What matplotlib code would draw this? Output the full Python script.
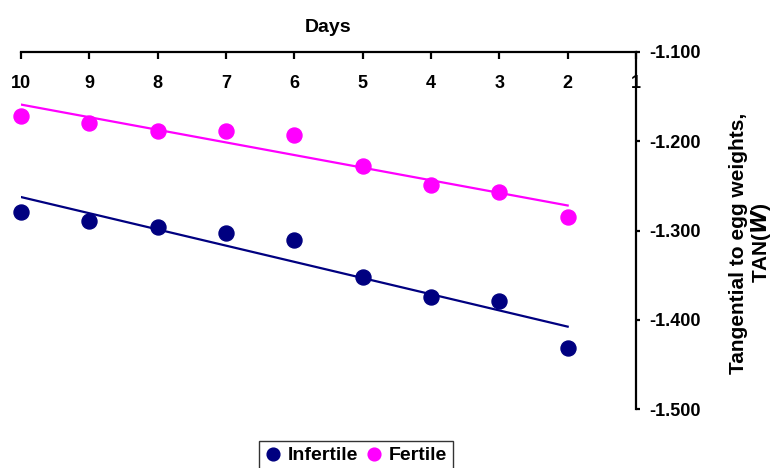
import numpy as np
import matplotlib
matplotlib.use("Agg")
import matplotlib.pyplot as plt

days = [10, 9, 8, 7, 6, 5, 4, 3, 2]
infertile = [-1.279, -1.289, -1.296, -1.303, -1.311, -1.352, -1.375, -1.379, -1.432]
fertile = [-1.172, -1.179, -1.188, -1.188, -1.193, -1.228, -1.249, -1.257, -1.285]
xticks = [10, 9, 8, 7, 6, 5, 4, 3, 2, 1]
yticks = [-1.1, -1.2, -1.3, -1.4, -1.5]

plt.rcParams['font.family'] = ['Liberation Sans', 'DejaVu Sans']
plt.rcParams['font.weight'] = 'bold'

W, H = 777, 468
fig = plt.figure(figsize=(W/100, H/100), dpi=100)
ax = fig.add_axes([21/W, 1-409/H, 615/W, 357/H])

navy = '#000080'
magenta = '#FF00FF'

for vals, col, lab in [(infertile, navy, 'Infertile'), (fertile, magenta, 'Fertile')]:
    x = np.array(days, dtype=float)
    y = np.array(vals)
    ax.plot(x, y, 'o', color=col, markersize=10.8, label=lab, clip_on=False, zorder=3)
    p = np.polyfit(x, y, 1)
    xx = np.array([x.max(), x.min()])
    ax.plot(xx, np.polyval(p, xx), '-', color=col, lw=1.6, zorder=2)

ax.set_xlim(10, 1)
ax.set_ylim(-1.5, -1.1)
ax.set_xticks(xticks)
ax.set_xticklabels([str(t) for t in xticks])
ax.set_yticks(yticks)
ax.set_yticklabels(['%.3f' % t for t in yticks])

for s in ['left', 'bottom']:
    ax.spines[s].set_visible(False)
for s in ['top', 'right']:
    ax.spines[s].set_linewidth(1.6)
    ax.spines[s].set_zorder(4)

ax.xaxis.tick_top()
ax.xaxis.set_label_position('top')
ax.yaxis.tick_right()
ax.yaxis.set_label_position('right')
ax.tick_params(axis='x', direction='in', length=5, width=1.6, labelsize=13, pad=-28.5)
ax.tick_params(axis='y', direction='out', length=3, width=1.6, labelsize=13, pad=6.5)
for lbl in ax.get_xticklabels() + ax.get_yticklabels():
    lbl.set_fontweight('bold')

ax.set_xlabel('Days', fontsize=14, fontweight='bold', labelpad=14.5)
ylab = ax.set_ylabel('Tangential to egg weights,\nTAN($\\bfit{W}$)', fontsize=15, fontweight='bold',
                     linespacing=1.1)
ax.yaxis.set_label_coords((751-21)/615, (409-243)/357)
ylab.set_va('center')
ylab.set_ha('center')

leg = ax.legend(loc='upper center', bbox_to_anchor=(356/W, 1-441/H), bbox_transform=fig.transFigure,
                ncol=2, frameon=True, fancybox=False, edgecolor='black',
                handletextpad=0.35, columnspacing=0.45, borderpad=0.3, handlelength=0.8,
                borderaxespad=0, markerscale=0.85, prop={'weight': 'bold', 'size': 14})
leg.get_frame().set_linewidth(1.0)

fig.savefig('out.png', dpi=100)
